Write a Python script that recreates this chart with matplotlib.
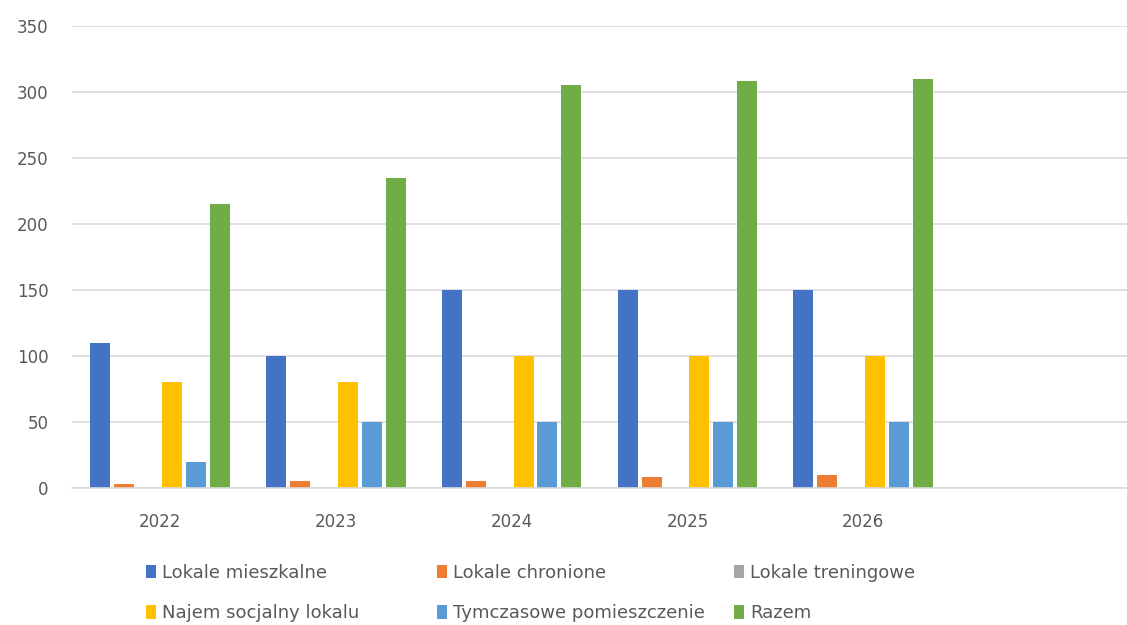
import numpy as np
import matplotlib
matplotlib.use("Agg")
import matplotlib.pyplot as plt

plt.rcParams['font.family'] = ['DejaVu Sans']

years = ['2022', '2023', '2024', '2025', '2026', '']
series = ['Lokale mieszkalne', 'Lokale chronione', 'Lokale treningowe',
          'Najem socjalny lokalu', 'Tymczasowe pomieszczenie', 'Razem']
mieszkalne = [110, 100, 150, 150, 150, 0]
chronione = [3, 5, 5, 8, 10, 0]
treningowe = [0, 0, 0, 0, 0, 0]
najem = [80, 80, 100, 100, 100, 0]
tymczasowe = [20, 50, 50, 50, 50, 0]
razem = [215, 235, 305, 308, 310, 0]
colors = ['#4472C4', '#ED7D31', '#A5A5A5', '#FFC000', '#5B9BD5', '#70AD47']

values = [mieszkalne, chronione, treningowe, najem, tymczasowe, razem]

fig = plt.figure(figsize=(11.27, 6.25), dpi=100)
ax = fig.add_axes([0.0639, 0.2192, 0.9361, 0.7392])

x = np.arange(len(years))
step = 0.136
width = 0.114
handles = []
for i, (vals, c, name) in enumerate(zip(values, colors, series)):
    b = ax.bar(x + (i - 2.5) * step, vals, width, color=c, label=name)
    handles.append(b)

ax.set_xlim(-0.5, len(years) - 0.5)
ax.set_ylim(0, 350)
ax.set_yticks(range(0, 351, 50))
ax.set_xticks(x)
ax.set_xticklabels(years)
ax.tick_params(axis='both', length=0, labelsize=12, colors='#595959')
ax.tick_params(axis='y', pad=17)
ax.tick_params(axis='x', pad=18)
ax.grid(axis='y', color='#d9d9d9', lw=1.2)
ax.set_axisbelow(True)
for s in ['top', 'right', 'left']:
    ax.spines[s].set_visible(False)
ax.spines['bottom'].set_color('#d9d9d9')
ax.spines['bottom'].set_linewidth(1.2)

# legend: three columns of two entries, placed like Excel does
col_x = [146 / 1127, 437 / 1127, 734 / 1127]
for k, cx in enumerate(col_x):
    idx = [k, k + 3]
    leg = fig.legend([handles[i] for i in idx], [series[i] for i in idx],
                     loc='center left', bbox_to_anchor=(cx, 0.0512),
                     frameon=False, fontsize=13, handlelength=0.55,
                     handleheight=0.75, handletextpad=0.35, labelspacing=1.25,
                     borderaxespad=0, borderpad=0)
    for t in leg.get_texts():
        t.set_color('#595959')

fig.savefig('out.png', dpi=100)
